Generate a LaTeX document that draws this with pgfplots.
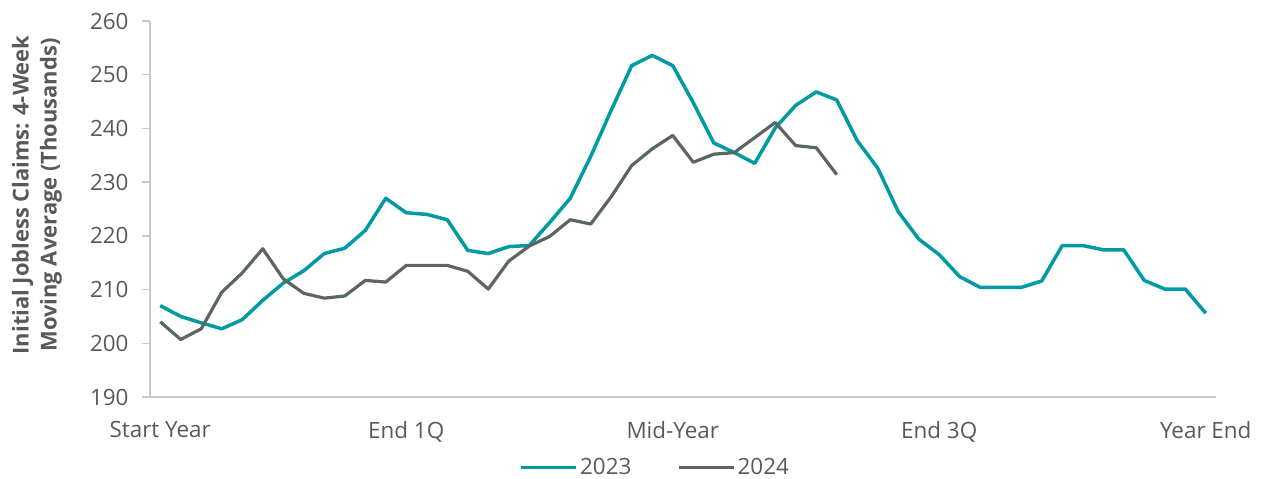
\documentclass[border=0pt]{standalone}
\usepackage{fontspec}
\setmainfont{Open Sans}
\usepackage{pgfplots}
\pgfplotsset{compat=1.18}
\definecolor{teal23}{HTML}{009AA2}
\definecolor{gray24}{HTML}{5B6662}
\definecolor{axisgray}{HTML}{C9C9C9}
\definecolor{labelgray}{HTML}{595959}

\begin{document}
\begin{tikzpicture}
\begin{axis}[
    at={(150bp,82bp)}, anchor=south west,
    scale only axis,
    width=1066bp, height=376bp,
    xmin=-0.5, xmax=51.5,
    ymin=190, ymax=260,
    axis lines*=left,
    axis line style={axisgray, line width=1.5bp},
    ytick={190,200,...,260},
    xtick={0,12,25,38,51},
    xticklabels={Start Year,End 1Q,Mid-Year,End 3Q,Year End},
    tick align=outside,
    major tick length=8bp,
    ytick style={axisgray, line width=1.5bp},
    xtick style={draw=none},
    /pgf/number format/assume math mode=true,
    ticklabel style={font=\fontsize{22.5}{27}\selectfont, text=labelgray},
    yticklabel style={xshift=-10bp},
    xticklabel style={yshift=-13bp},
    legend columns=2,
    legend style={at={(rel axis cs:0.474,-0.187)}, anchor=center, draw=none, fill=none,
        font=\fontsize{22.5}{27}\selectfont, text=labelgray,
        nodes={inner xsep=2bp, inner ysep=0bp},
        /tikz/every even column/.append style={column sep=44bp}},
    legend image code/.code={\draw[#1] (0bp,0bp) -- (55bp,0bp);},
]
% 2023
\addplot[teal23, line width=3.5bp, line join=round] coordinates {
(0,207.0) (1,205.0) (2,203.8) (3,202.7) (4,204.4) (5,208.0) (6,211.2) (7,213.5)
(8,216.7) (9,217.7) (10,221.0) (11,227.0) (12,224.3) (13,224.0) (14,223.0) (15,217.3)
(16,216.7) (17,218.0) (18,218.2) (19,222.5) (20,227.0) (21,234.8) (22,243.4) (23,251.7)
(24,253.6) (25,251.7) (26,244.8) (27,237.3) (28,235.5) (29,233.5) (30,240.1) (31,244.3)
(32,246.8) (33,245.3) (34,237.7) (35,232.6) (36,224.5) (37,219.4) (38,216.5) (39,212.4)
(40,210.4) (41,210.4) (42,210.4) (43,211.6) (44,218.2) (45,218.2) (46,217.4) (47,217.4)
(48,211.7) (49,210.1) (50,210.1) (51,205.6)
};
\addlegendentry{2023}
% 2024
\addplot[gray24, line width=3.2bp, line join=round] coordinates {
(0,204.0) (1,200.7) (2,202.7) (3,209.5) (4,213.1) (5,217.6) (6,212.0) (7,209.3)
(8,208.4) (9,208.8) (10,211.7) (11,211.4) (12,214.5) (13,214.5) (14,214.5) (15,213.4)
(16,210.1) (17,215.3) (18,218.1) (19,219.9) (20,223.0) (21,222.2) (22,227.3) (23,233.1)
(24,236.2) (25,238.7) (26,233.7) (27,235.2) (28,235.5) (29,238.3) (30,241.1) (31,236.8)
(32,236.4) (33,231.4)
};
\addlegendentry{2024}
\end{axis}
\node[rotate=90, align=center, font=\bfseries\fontsize{22}{28}\selectfont, text=labelgray]
    at (37bp,284bp) {Initial Jobless Claims: 4-Week\\Moving Average (Thousands)};
\pgfresetboundingbox
\path (0,0) rectangle (1263bp,479bp);
\end{tikzpicture}
\end{document}
